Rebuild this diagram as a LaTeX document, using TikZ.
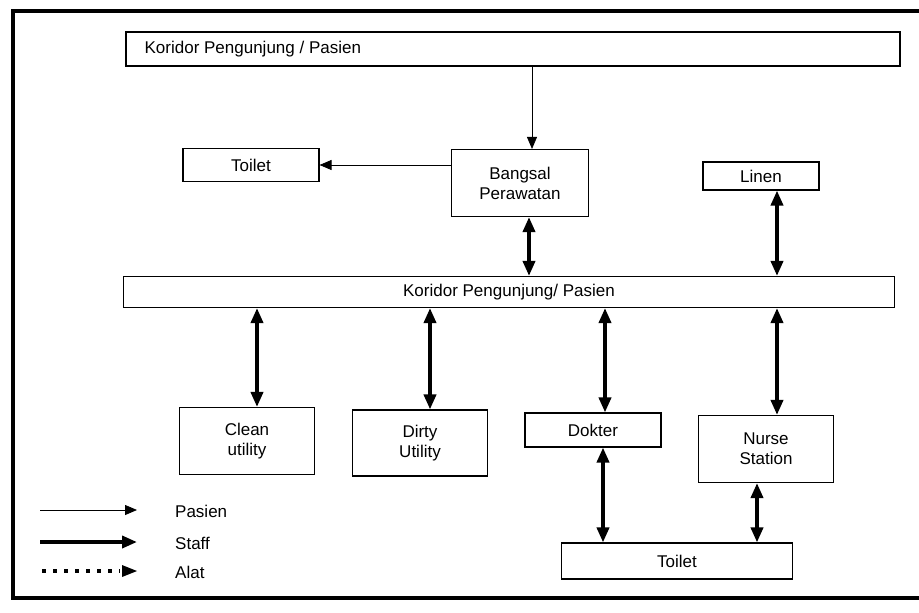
\documentclass[tikz,border=0pt]{standalone}
\usepackage{fontspec}
\setmainfont{Liberation Sans}
\usetikzlibrary{arrows.meta}
\begin{document}
\begin{tikzpicture}[x=1pt,y=-1pt,
  txt/.style={font=\fontsize{17}{20}\selectfont},
  box/.style={draw,line width=1.1pt,rectangle,inner sep=0pt,align=center,txt},
  pasien/.style={line width=0.8pt,-{Triangle[length=12pt,width=10pt]}},
  staff/.style={line width=3.6pt,{Triangle[length=15pt,width=12pt]}-{Triangle[length=15pt,width=12pt]}},
  staffone/.style={line width=3.6pt,-{Triangle[length=15pt,width=12pt]}},
  alat/.style={line width=4pt,dash pattern=on 4pt off 7pt},
  legend/.style={anchor=west,inner sep=0pt,txt}]
\useasboundingbox (0,0) rectangle (919,613);
\fill[white] (0,0) rectangle (919,613);
% outer frame
\draw[line width=4.5pt] (919,11) -- (13,11) -- (13,598) -- (919,598);
% rooms
\node[box,minimum width=774pt,minimum height=34pt] (kor1) at (513,49) {};
\node[anchor=west,inner sep=0pt,txt] (kor1t) at (kor1.west) [xshift=19pt] {Koridor Pengunjung / Pasien};
\node[box,minimum width=136pt,minimum height=33pt] (toiletA) at (251,165) {Toilet};
\node[box,minimum width=137pt,minimum height=67pt] (bangsal) at (520,183) {Bangsal\\Perawatan};
\node[box,minimum width=116pt,minimum height=28pt] (linen) at (761,176) {Linen};
\node[box,minimum width=771pt,minimum height=31pt] (kor2) at (509,292) {Koridor Pengunjung/ Pasien};
\node[box,minimum width=135pt,minimum height=67pt] (clean) at (247,441) {Clean\\utility};
\node[box,minimum width=135pt,minimum height=66pt] (dirty) at (420,443) {Dirty\\Utility};
\node[box,minimum width=136pt,minimum height=34pt] (dokter) at (593,430) {Dokter};
\node[box,minimum width=135pt,minimum height=67pt] (nurse) at (766,449) {Nurse\\Station};
\node[box,minimum width=231pt,minimum height=36pt] (toiletB) at (677,561) {Toilet};
% patient flow
\draw[pasien] (kor1.south -| 532,0) -- (bangsal.north -| 532,0);
\draw[pasien] (bangsal.west |- 0,165) -- (toiletA.east);
% staff flow
\draw[staff] (bangsal.south -| 529,0) -- (kor2.north -| 529,0);
\draw[staff] (linen.south -| 777,0) -- (kor2.north -| 777,0);
\draw[staff] (kor2.south -| 257,0) -- (clean.north -| 257,0);
\draw[staff] (kor2.south -| 430,0) -- (dirty.north -| 430,0);
\draw[staff] (kor2.south -| 605,0) -- (dokter.north -| 605,0);
\draw[staff] (kor2.south -| 777,0) -- (nurse.north -| 777,0);
\draw[staff] (dokter.south -| 603,0) -- (toiletB.north -| 603,0);
\draw[staff] (nurse.south -| 757,0) -- (toiletB.north -| 757,0);
% legend
\coordinate (l1a) at (40,510); \coordinate (l1b) at (137,510);
\coordinate (l2a) at (40,542); \coordinate (l2b) at (137,542);
\coordinate (l3a) at (42,571); \coordinate (l3b) at (120,571);
\draw[pasien] (l1a) -- (l1b);
\draw[staffone] (l2a) -- (l2b);
\draw[alat] (l3a) -- (l3b);
\fill (122,565) -- (137,571) -- (122,577) -- cycle;
\node[legend] (lp) at (175,511) {Pasien};
\node[legend] (ls) at (175,543) {Staff};
\node[legend] (la) at (175,572) {Alat};
\end{tikzpicture}
\end{document}
